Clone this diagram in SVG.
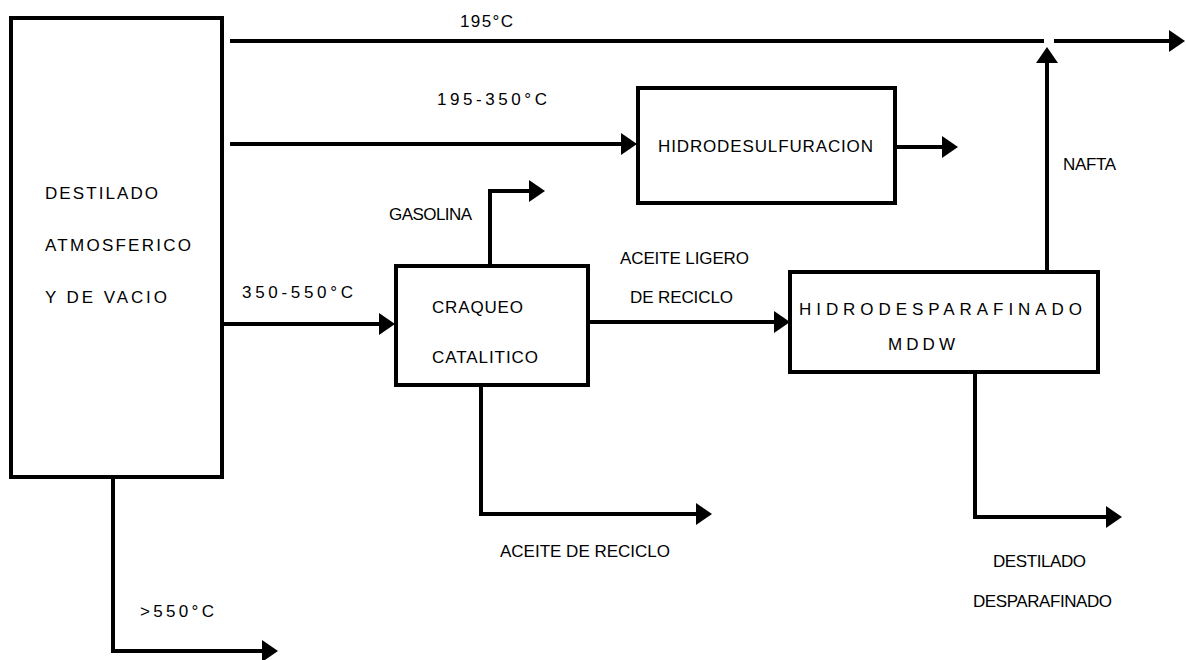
<svg xmlns="http://www.w3.org/2000/svg" width="1186" height="660" viewBox="0 0 1186 660">
<style>
.box{fill:#fff;stroke:#000;stroke-width:4}
.ln{fill:none;stroke:#000;stroke-width:4;stroke-linejoin:miter}
.ar{marker-end:url(#ah)}
text{font-family:"Liberation Sans",Arial,sans-serif;fill:#000;font-size:17px}
</style>
<defs>
<marker id="ah" markerUnits="userSpaceOnUse" markerWidth="16" markerHeight="22" refX="6" refY="11" orient="auto" viewBox="0 0 16 22">
<path d="M0,0 L16,11 L0,22 z" fill="#000"/>
</marker>
</defs>
<rect width="1186" height="660" fill="#fff"/>
<g id="connectors">
<path class="ln" d="M230,41 H1044"/>
<path class="ln ar" d="M1054,41 H1175"/>
<path class="ln ar" d="M230,144 H627"/>
<path class="ln ar" d="M895,147 H948"/>
<path class="ln ar" d="M222,324 H385"/>
<path class="ln ar" d="M490,266 V191 H535"/>
<path class="ln ar" d="M588,322 H780"/>
<path class="ln ar" d="M1047,272 V57"/>
<path class="ln ar" d="M975,372 V517 H1112"/>
<path class="ln ar" d="M481,385 V514 H702"/>
<path class="ln ar" d="M113,477 V651 H268"/>
</g>
<g id="node-destilado">
<rect class="box" x="11" y="18" width="211" height="459"/>
<text x="45" y="199" font-size="19" textLength="113" lengthAdjust="spacing">DESTILADO</text>
<text x="45" y="251" font-size="19" textLength="146" lengthAdjust="spacing">ATMOSFERICO</text>
<text x="45" y="303" font-size="19" textLength="122" lengthAdjust="spacing">Y DE VACIO</text>
</g>
<g id="node-hds">
<rect class="box" x="638" y="88" width="257" height="115"/>
<text x="658" y="152" font-size="18" textLength="215" lengthAdjust="spacing">HIDRODESULFURACION</text>
</g>
<g id="node-craqueo">
<rect class="box" x="396" y="266" width="192" height="119"/>
<text x="432" y="313" font-size="18" textLength="91" lengthAdjust="spacing">CRAQUEO</text>
<text x="432" y="363" font-size="18" textLength="106" lengthAdjust="spacing">CATALITICO</text>
</g>
<g id="node-hdp">
<rect class="box" x="790" y="272" width="308" height="100"/>
<text x="799" y="315" font-size="15" textLength="283" lengthAdjust="spacing">HIDRODESPARAFINADO</text>
<text x="888" y="350" font-size="13" textLength="67" lengthAdjust="spacing">MDDW</text>
</g>
<g id="labels">
<text x="460" y="27" textLength="53" lengthAdjust="spacing">195°C</text>
<text x="437" y="105" textLength="110" lengthAdjust="spacing">195-350°C</text>
<text x="242" y="298" textLength="111" lengthAdjust="spacing">350-550°C</text>
<text x="389" y="220" font-size="15" textLength="83" lengthAdjust="spacing">GASOLINA</text>
<text x="620" y="264" font-size="16" textLength="129" lengthAdjust="spacing">ACEITE LIGERO</text>
<text x="630" y="303" font-size="16" textLength="103" lengthAdjust="spacing">DE RECICLO</text>
<text x="1063" y="170" font-size="15" textLength="53" lengthAdjust="spacing">NAFTA</text>
<text x="500" y="557" font-size="16" textLength="170" lengthAdjust="spacing">ACEITE DE RECICLO</text>
<text x="993" y="567" font-size="15" textLength="93" lengthAdjust="spacing">DESTILADO</text>
<text x="973" y="607" font-size="15" textLength="139" lengthAdjust="spacing">DESPARAFINADO</text>
<text x="140" y="617" textLength="74" lengthAdjust="spacing">&gt;550°C</text>
</g>
</svg>
